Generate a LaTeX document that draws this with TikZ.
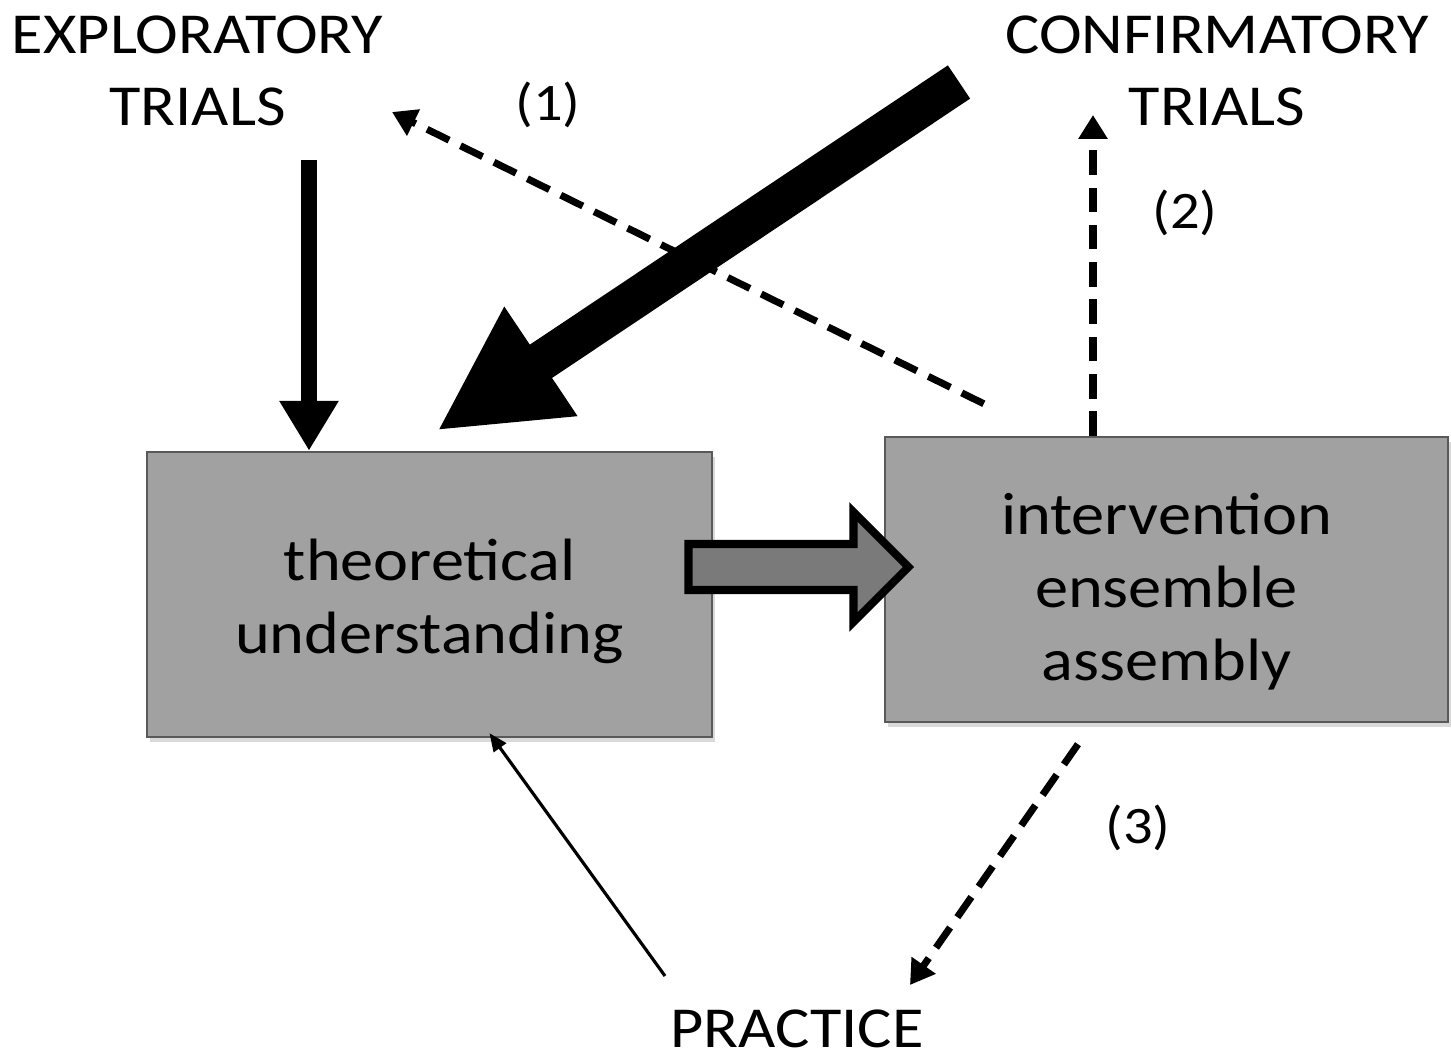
\documentclass[tikz,border=0pt]{standalone}
\usepackage{fontspec}
\setmainfont[FakeStretch=1.11]{Carlito}
\usetikzlibrary{positioning,arrows.meta,calc,shadows}

\begin{document}
\begin{tikzpicture}[
  trialnode/.style={align=center,inner sep=0pt,font=\fontsize{16.5}{20.5}\selectfont},
  boxnode/.style={rectangle,draw=black!65,line width=0.7pt,fill=black!37,align=center,minimum width=5.65cm,minimum height=2.85cm,font=\fontsize{17}{20.8}\selectfont,drop shadow={shadow xshift=0.03cm,shadow yshift=-0.05cm,opacity=0.3}},
  numlabel/.style={font=\fontsize{15}{17}\selectfont},
  feed/.style={line width=0.16cm,-{Triangle[length=0.5cm,width=0.56cm]}},
  bigfeed/.style={line width=0.40cm,-{Triangle[length=1.25cm,width=1.22cm]}},
  dasharr/.style={line width=2pt,dash pattern=on 7pt off 3.6pt,-{Triangle[length=0.24cm,width=0.28cm]}},
  thinarr/.style={line width=0.9pt,-{Triangle[length=0.18cm,width=0.15cm]}},
  blockarr/.style={draw,line width=2.3pt,fill=black!52,line join=miter},
]
\useasboundingbox (0,0) rectangle (14.51,10.62);

% ==== TRIALS (top) ====
\node[trialnode] (explo) at (1.975,9.91) {EXPLORATORY\\TRIALS};
\node[trialnode] (confirm) at (12.17,9.91) {CONFIRMATORY\\TRIALS};

% ==== BOXES ====
\node[boxnode] (theo) at (4.295,4.675) {\rule{0pt}{0.55cm}theoretical\\understanding};
\node[boxnode,minimum width=5.63cm] (inter) at (11.665,4.825) {\rule{0pt}{0.66cm}intervention\\ensemble\\assembly};

% ==== PRACTICE (bottom) ====
\node[trialnode] (practice) at (7.97,0.33) {PRACTICE};

% Feeds into theoretical understanding
\coordinate (exploout) at (3.09,9.02);
\draw[feed] (exploout) -- (exploout |- theo.north);
\coordinate (confout) at (9.59,9.80);
\draw[bigfeed] (confout) -- ($(theo.north)+(0.075,0.20)$);
\coordinate (practout) at (6.65,0.86);
\draw[thinarr] (practout) -- ($(theo.south)+(0.6,0.05)$);

% Dashed routes out of the assembly
\coordinate (explin) at (3.92,9.50);
\draw[dasharr] ($(inter.north west)+(1.0,0.32)$) -- (explin);
\node[numlabel] (one) at (5.48,9.57) {(1)};
\coordinate (confin) at (10.93,9.47);
\draw[dasharr] (confin |- inter.north) -- (confin);
\node[numlabel] (two) at (11.85,8.49) {(2)};
\coordinate (practin) at (9.10,0.77);
\draw[dasharr] ($(inter.south)+(-0.885,-0.21)$) -- (practin);
\node[numlabel] (three) at (11.38,2.34) {(3)};

% Block arrow between the boxes
\coordinate (mid) at ($(theo.east)!0.5!(inter.west)+(0,0.2)$);
\begin{scope}[shift={(mid)}]
\draw[blockarr] (-1.10,0.23) -- (0.55,0.23) -- (0.55,0.55) -- (1.10,0) -- (0.55,-0.55) -- (0.55,-0.23) -- (-1.10,-0.23) -- cycle;
\end{scope}

\end{tikzpicture}
\end{document}
